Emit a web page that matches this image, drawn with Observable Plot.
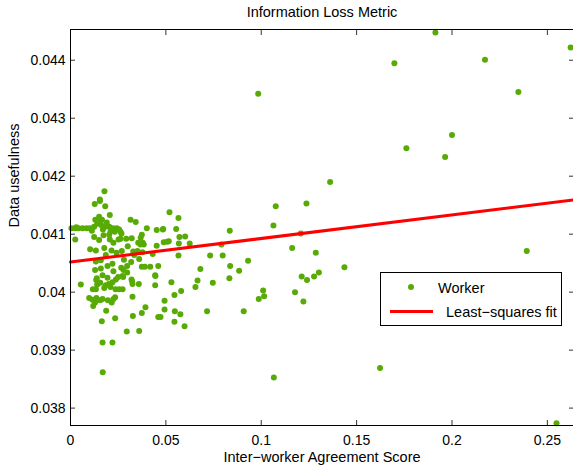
<!DOCTYPE html>
<html><head><meta charset="utf-8">
<script src="https://cdn.jsdelivr.net/npm/d3@7"></script>
<script src="https://cdn.jsdelivr.net/npm/@observablehq/plot@0.6"></script>
<style>
body{margin:0;background:#fff;}
#wrap{position:relative;width:573px;height:466px;overflow:hidden;font-family:"Liberation Sans",Arial,sans-serif;}
#legend{position:absolute;left:380px;top:272px;width:182px;height:54px;border:1.3px solid #000;background:#fff;box-sizing:border-box;font-size:14.5px;color:#000;}
#legend .dot{position:absolute;left:27px;top:11px;width:6px;height:6px;border-radius:50%;background:#58aa05;}
#legend .ln{position:absolute;left:9px;top:37px;width:43px;height:3px;background:#ff0000;}
#legend .t{position:absolute;line-height:16px;white-space:nowrap;}
</style></head>
<body><div id="wrap"></div>
<script>
// Inter-worker agreement score (x) and data usefulness (y) of each worker
const agreement = [
0.1913,0.2622,0.1698,0.2173,0.0984,0.2348,0.2000,0.1761,0.1964,0.1361,
0.0519,0.0566,0.1076,0.1237,0.0486,0.0554,0.0489,0.0515,0.0571,0.0601,
0.0568,0.0625,0.0566,0.0791,0.0835,0.1064,0.1207,0.1162,0.1286,0.0732,
0.0798,0.0681,0.0837,0.0884,0.0931,0.0666,0.0655,0.0746,0.0833,0.0529,
0.0545,0.0580,0.0493,0.0493,0.0547,0.0576,0.0545,0.0598,0.0472,0.0716,
0.0908,0.1212,0.1240,0.1277,0.1302,0.1436,0.1010,0.0987,0.1015,0.1177,
0.1221,0.1066,0.1623,0.2392,0.2548,
0.0315,0.0342,0.0400,0.0452,0.0484,0.0262,0.0267,0.0292,0.0321,0.0374,
0.0368,0.0262,0.0355,0.0384,0.0300,0.0367,0.0452,0.0351,0.0377,0.0329,
0.0269,0.0431,0.0334,0.0360,0.0318,0.0280,0.0297,0.0374,0.0390,0.0418,
0.0460,0.0266,0.0278,0.0297,0.0444,0.0320,0.0276,0.0273,0.0323,0.0325,
0.0358,0.0445,0.0444,0.0273,0.0325,0.0393,0.0374,0.0327,0.0460,0.0295,
0.0360,
0.0054,0.0117,0.0135,0.0140,0.0156,0.0177,0.0185,0.0201,0.0210,0.0220,
0.0238,0.0250,0.0236,0.0255,0.0133,0.0098,0.0115,0.0129,0.0136,0.0156,
0.0168,0.0196,0.0216,0.0234,0.0225,0.0119,0.0187,0.0164,0.0234,0.0168,
0.0220,0.0169,
0.0178,0.0127,0.0154,0.0182,0.0206,0.0154,0.0025,0.0042,0.0063,0.0084,
0.0101,0.0124,0.0140,0.0147,0.0161,0.0182,0.0203,0.0224,0.0243,0.0255,
0.0025,0.0103,0.0133,0.0177,0.0150,0.0124,0.0173,0.0203,0.0206,0.0225,
0.0252,0.0215,0.0241,0.0185,0.0159,0.0133,0.0220,0.0194,0.0159,0.0129,
0.0225,0.0168,0.0194,0.0138,
0.0005,0.0030,0.0112,0.0130,0.0165,0.0190,0.0150,0.0170,0.0210,0.0232,
0.0507,0.0379
];
const usefulness = [
0.04448,0.04422,0.04395,0.04401,0.04342,0.04345,0.04271,0.04248,0.04233,0.04190,
0.04138,0.04128,0.04148,0.04153,0.04109,0.04109,0.04086,0.04088,0.04095,0.04096,
0.04084,0.04084,0.04063,0.04082,0.04106,0.04115,0.04101,0.04076,0.04068,0.04063,
0.04063,0.04040,0.04045,0.04037,0.04054,0.04020,0.04009,0.04016,0.04024,0.04017,
0.03995,0.04002,0.03985,0.03970,0.03967,0.03962,0.03949,0.03941,0.03957,0.03967,
0.03967,0.04027,0.04021,0.04027,0.04034,0.04043,0.04003,0.03988,0.03993,0.04000,
0.03984,0.03853,0.03869,0.04071,0.03774,
0.04125,0.04121,0.04110,0.04107,0.04108,0.04104,0.04101,0.04092,0.04093,0.04099,
0.04094,0.04092,0.04085,0.04082,0.04079,0.04082,0.04080,0.04071,0.04069,0.04070,
0.04071,0.04066,0.04064,0.04057,0.04052,0.04056,0.04045,0.04044,0.04044,0.04044,
0.04045,0.04042,0.04038,0.04034,0.04029,0.04022,0.04026,0.04028,0.04019,0.04014,
0.04014,0.04028,0.04012,0.04005,0.03992,0.03974,0.03964,0.03959,0.03957,0.03932,
0.03933,
0.04013,0.04005,0.04021,0.04013,0.04016,0.04007,0.04012,0.04014,0.04009,0.04017,
0.04022,0.04026,0.04005,0.04005,0.04005,0.03990,0.03987,0.03982,0.03990,0.03986,
0.03988,0.03986,0.03982,0.03991,0.03988,0.03976,0.03968,0.03950,0.03955,0.03913,
0.03913,0.03862,
0.04174,0.04152,0.04157,0.04148,0.04133,0.04160,0.04110,0.04110,0.04110,0.04110,
0.04110,0.04113,0.04118,0.04122,0.04116,0.04113,0.04113,0.04110,0.04110,0.04108,
0.04091,0.04074,0.04072,0.04076,0.04090,0.04095,0.04098,0.04099,0.04091,0.04085,
0.04091,0.04072,0.04068,0.04064,0.04055,0.04053,0.04049,0.04045,0.04041,0.04038,
0.04036,0.04029,0.04025,0.04024,
0.04110,0.04112,0.04106,0.04125,0.04125,0.04120,0.04130,0.04108,0.04105,0.04104,
0.04087,0.04085
];
// Least-squares fit line (end points)
const fitX = [0, 0.2637];
const fitY = [0.04052, 0.04159];
const xTicks = [0, 0.05, 0.1, 0.15, 0.2, 0.25];
const yTicks = [0.038, 0.039, 0.04, 0.041, 0.042, 0.043, 0.044];
const xDomain = [0, 0.2637];
const yDomain = [0.0377, 0.04453];
const titleText = "Information Loss Metric";
const xLabel = "Inter\u2212worker Agreement Score";
const yLabel = "Data usefulness";
const legendLabels = ["Worker", "Least\u2212squares fit"];

const green = "#58aa05";
const points = agreement.map((x, i) => ({x, y: usefulness[i]}));
const fit = fitX.map((x, i) => ({x, y: fitY[i]}));
const fmt = d => String(+d.toFixed(3));

const chart = Plot.plot({
  width: 573, height: 466,
  marginTop: 29, marginBottom: 41, marginLeft: 70, marginRight: 0,
  style: {fontFamily: '"Liberation Sans", Arial, sans-serif', fontSize: "14px", color: "#000", background: "#fff", overflow: "hidden"},
  x: {domain: xDomain},
  y: {domain: yDomain},
  marks: [
    Plot.dot(points, {x: "x", y: "y", r: 3, fill: green, stroke: null}),
    Plot.line(fit, {x: "x", y: "y", stroke: "#ff0000", strokeWidth: 3}),
    Plot.axisX(xTicks, {anchor: "bottom", tickSize: -5, tickPadding: 15, tickFormat: fmt, label: null, stroke: "#333"}),
    Plot.axisX(xTicks, {anchor: "top", tickSize: -5, tickFormat: () => "", label: null, stroke: "#333"}),
    Plot.axisY(yTicks, {anchor: "left", tickSize: -5, tickPadding: 10, tickFormat: fmt, label: null, stroke: "#333"}),
    Plot.axisY(yTicks, {anchor: "right", tickSize: -5, tickFormat: () => "", label: null, stroke: "#333"}),
    Plot.ruleX([xDomain[0]], {stroke: "#000"}),
    Plot.ruleY(yDomain, {stroke: "#000"}),
    Plot.text([titleText], {frameAnchor: "top", dy: -23, fontSize: 14.5, fill: "#000"}),
    Plot.text([xLabel], {frameAnchor: "bottom", dy: 36, fontSize: 14.5, fill: "#000"}),
    Plot.text([yLabel], {frameAnchor: "left", dx: -56, rotate: -90, fontSize: 14.5, fill: "#000"})
  ]
});
const wrap = document.getElementById("wrap");
wrap.appendChild(chart);
const lg = document.createElement("div");
lg.id = "legend";
lg.innerHTML = `<div class="dot"></div><div class="t" style="left:57px;top:7px">${legendLabels[0]}</div>` +
  `<div class="ln"></div><div class="t" style="left:65px;top:31px">${legendLabels[1]}</div>`;
wrap.appendChild(lg);
</script>
</body></html>
